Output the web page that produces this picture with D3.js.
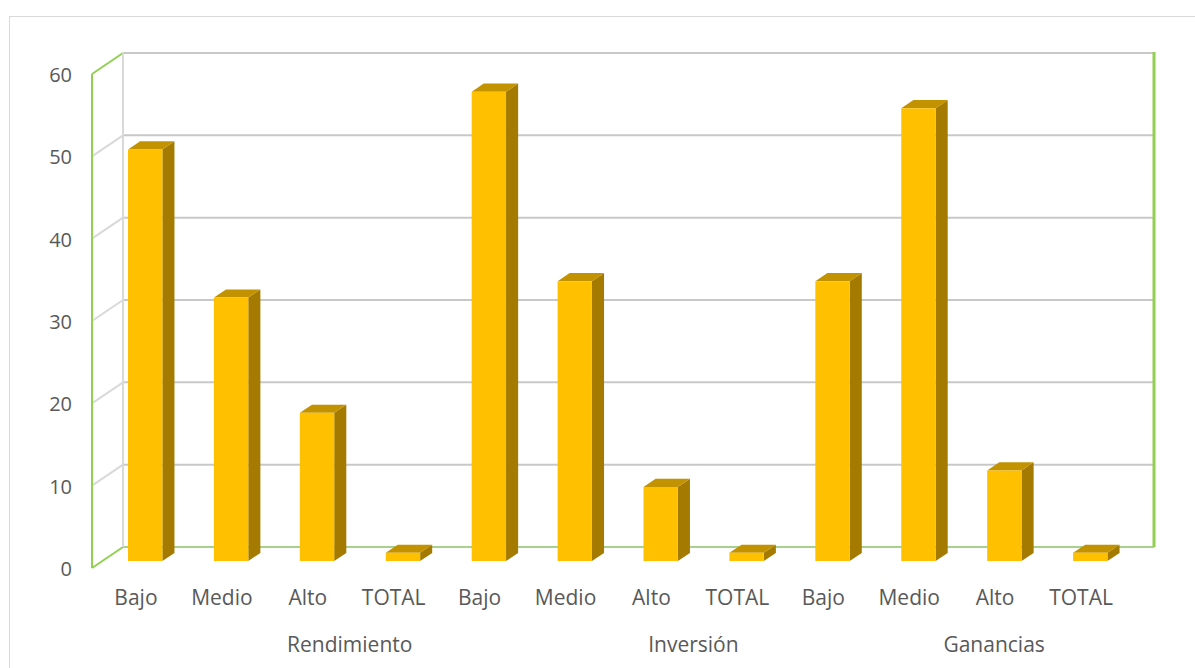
<!DOCTYPE html>
<html>
<head>
<meta charset="utf-8">
<script src="https://cdn.jsdelivr.net/npm/d3@7"></script>
<style>
  body { margin: 0; background: #fff; }
  text { font-family: "Open Sans", sans-serif; fill: #595959; }
</style>
</head>
<body>
<svg id="chart" width="1195" height="668"></svg>
<script>
// chart data
var groups = ['Rendimiento', 'Inversión', 'Ganancias'];
var levels = ['Bajo', 'Medio', 'Alto', 'TOTAL'];
var rendimiento = [50, 32, 18, 1];
var inversion = [57, 34, 9, 1];
var ganancias = [34, 55, 11, 1];
var yTicks = [0, 10, 20, 30, 40, 50, 60];

var seriesByGroup = [rendimiento, inversion, ganancias];
var data = [];
groups.forEach(function(g, gi) {
  levels.forEach(function(l, li) {
    data.push({ key: g + '-' + l, group: g, level: l, value: seriesByGroup[gi][li] });
  });
});

var svg = d3.select('#chart');

// outer chart border
svg.append('rect')
  .attr('x', 9.5).attr('y', 16.5)
  .attr('width', 1300).attr('height', 800)
  .attr('fill', 'none').attr('stroke', '#d9d9d9');

// 3d box: front plane and depth offset
var depthX = 31, depthY = -21;
var x = d3.scaleBand().domain(data.map(function(d) { return d.key; })).range([92, 1123]);
var y = d3.scaleLinear().domain([0, 60]).range([568, 74]);

function pt(px, py, z) {
  return [px + z * depthX, py + z * depthY];
}

var walls = svg.append('g');

// gridlines on back wall and left wall
yTicks.forEach(function(t) {
  var isBase = t === 0;
  var a = pt(x.range()[0], y(t), 0), b = pt(x.range()[0], y(t), 1), c = pt(x.range()[1], y(t), 1);
  walls.append('line')
    .attr('x1', a[0]).attr('y1', a[1]).attr('x2', b[0]).attr('y2', b[1])
    .attr('stroke', (isBase || t === 60) ? '#92d050' : '#d9d9d9').attr('stroke-width', 2);
  walls.append('line')
    .attr('x1', b[0]).attr('y1', b[1]).attr('x2', c[0]).attr('y2', c[1])
    .attr('stroke', isBase ? '#a9d18e' : '#c8c8c8').attr('stroke-width', 2);
});

// back wall left edge (gray), right edge (green), left wall front edge (green)
var bl0 = pt(x.range()[0], y(0), 1), bl1 = pt(x.range()[0], y(60), 1);
walls.append('line')
  .attr('x1', bl0[0]).attr('y1', bl0[1]).attr('x2', bl1[0]).attr('y2', bl1[1])
  .attr('stroke', '#d9d9d9').attr('stroke-width', 2);
var br0 = pt(x.range()[1], y(0), 1), br1 = pt(x.range()[1], y(60), 1);
walls.append('line')
  .attr('x1', br0[0]).attr('y1', br0[1]).attr('x2', br1[0]).attr('y2', br1[1] - 1)
  .attr('stroke', '#92d050').attr('stroke-width', 3);
walls.append('line')
  .attr('x1', x.range()[0]).attr('y1', y(0)).attr('x2', x.range()[0]).attr('y2', y(60))
  .attr('stroke', '#92d050').attr('stroke-width', 2);

// bars
var z0 = 0.33, z1 = 0.72;
var barW = x.bandwidth() * 0.4;

function poly(pts) {
  return 'M' + pts.map(function(p) { return p.join(','); }).join('L') + 'Z';
}

var bars = svg.append('g').selectAll('g.bar')
  .data(data)
  .enter().append('g')
  .attr('class', 'bar');

bars.each(function(d) {
  var g = d3.select(this);
  var x0 = x(d.key) + (x.bandwidth() - barW) / 2, x1 = x0 + barW;
  var yb = y(0), yt = y(d.value);
  g.append('path')
    .attr('d', poly([pt(x1, yb, z0), pt(x1, yt, z0), pt(x1, yt, z1), pt(x1, yb, z1)]))
    .attr('fill', '#a47b00');
  g.append('path')
    .attr('d', poly([pt(x0, yt, z0), pt(x1, yt, z0), pt(x1, yt, z1), pt(x0, yt, z1)]))
    .attr('fill', '#c39200');
  g.append('path')
    .attr('d', poly([pt(x0, yb, z0), pt(x1, yb, z0), pt(x1, yt, z0), pt(x0, yt, z0)]))
    .attr('fill', '#ffc000');
});

// y axis labels
svg.append('g').selectAll('text')
  .data(yTicks)
  .enter().append('text')
  .attr('x', 72)
  .attr('y', function(d) { return y(d) + 1; })
  .attr('dy', '0.35em')
  .attr('text-anchor', 'end')
  .style('font-size', '20px')
  .text(function(d) { return d; });

// category labels
svg.append('g').selectAll('text')
  .data(data)
  .enter().append('text')
  .attr('x', function(d) { return x(d.key) + x.bandwidth() / 2 + 1; })
  .attr('y', 605)
  .attr('text-anchor', 'middle')
  .style('font-size', '21px')
  .text(function(d) { return d.level; });

// group labels (excel puts them off-centre: between Alto/TOTAL, last one under Alto)
var groupAnchor = [[2, 3], [2, 3], [2, 2]];
svg.append('g').selectAll('text')
  .data(groups)
  .enter().append('text')
  .attr('x', function(d, i) {
    var a = x(d + '-' + levels[groupAnchor[i][0]]), b = x(d + '-' + levels[groupAnchor[i][1]]);
    return (a + b) / 2 + x.bandwidth() / 2;
  })
  .attr('y', 652)
  .attr('text-anchor', 'middle')
  .style('font-size', '21px')
  .text(function(d) { return d; });
</script>
</body>
</html>
